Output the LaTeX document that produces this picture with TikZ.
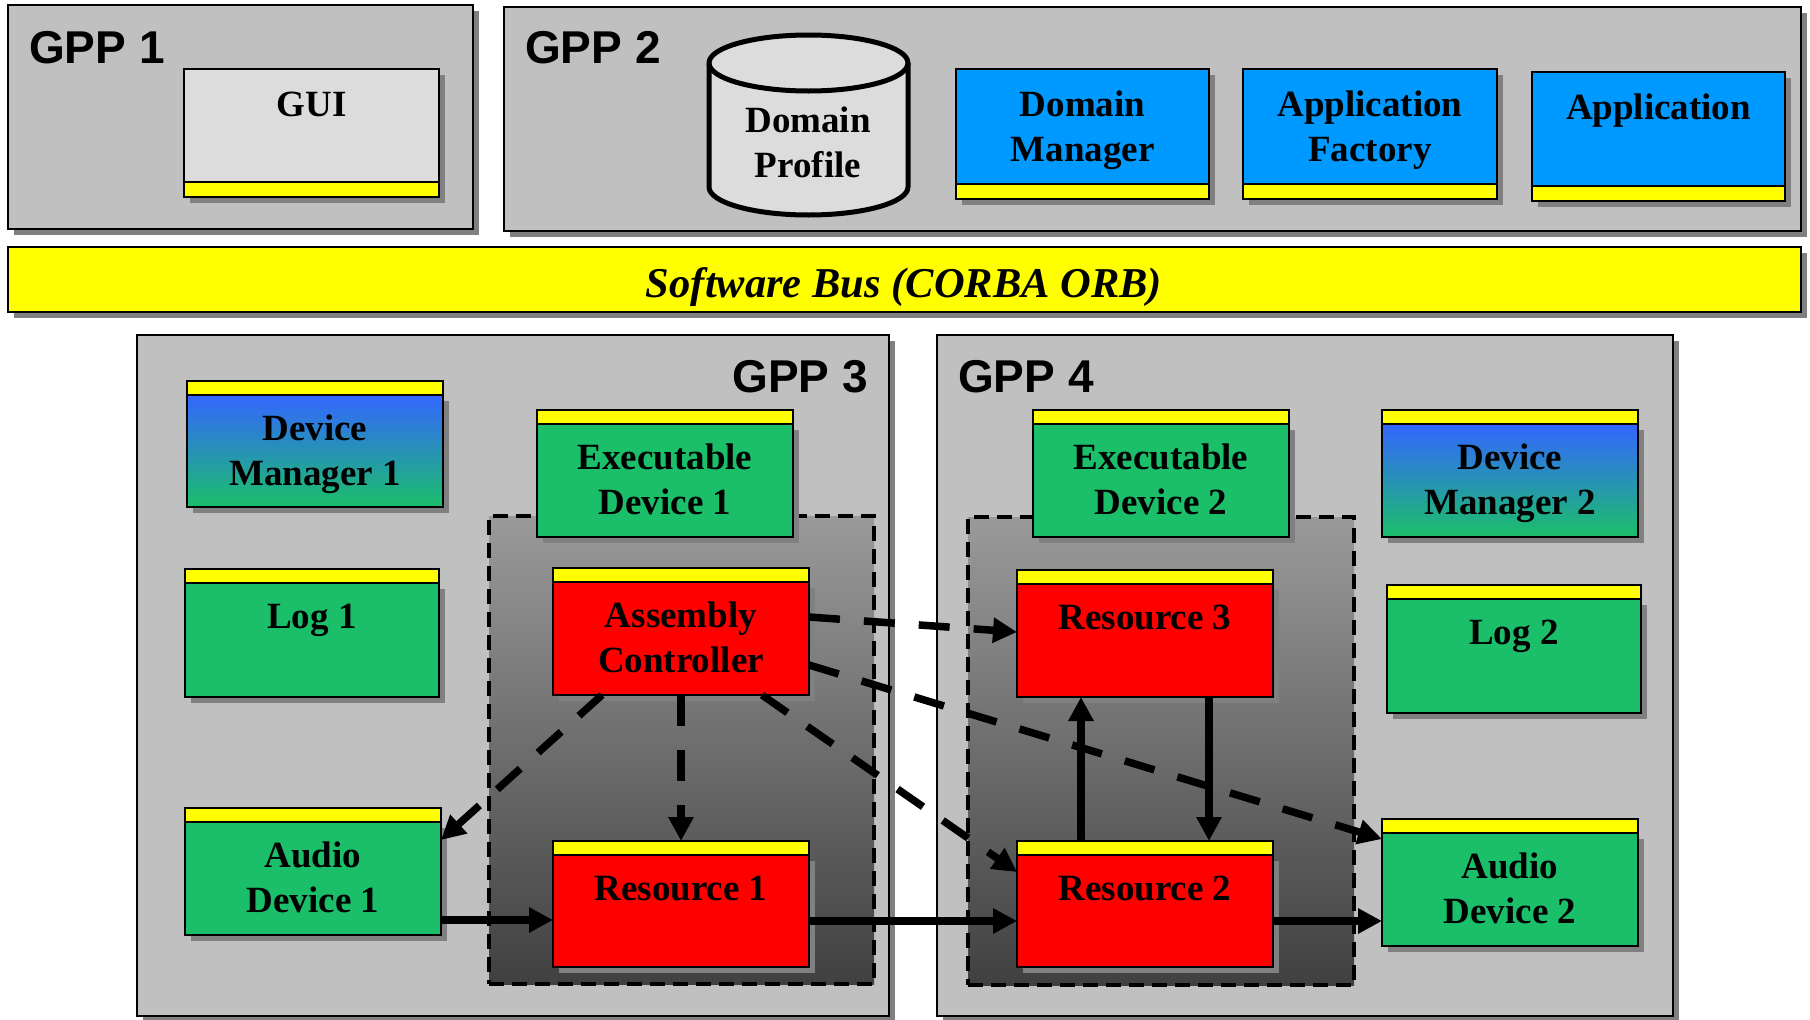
\documentclass[tikz,border=0pt]{standalone}
\usepackage{fontspec}
\setmainfont{Liberation Serif}
\newfontfamily\arialf{Liberation Sans}
\usetikzlibrary{arrows.meta,calc}
\definecolor{gppgray}{HTML}{C0C0C0}
\definecolor{shadowgray}{HTML}{808080}
\definecolor{guigray}{HTML}{DCDCDC}
\definecolor{busyellow}{HTML}{FFFF00}
\definecolor{compgreen}{HTML}{1BBF6A}
\definecolor{compblue}{HTML}{0099FF}
\definecolor{dmblue}{HTML}{3366FF}
\definecolor{compred}{HTML}{FF0000}
\definecolor{regtop}{HTML}{9A9A9A}
\definecolor{regbot}{HTML}{404040}
\tikzset{
  outline/.style={draw=black, line width=2pt},
  txt/.style={font=\fontsize{37}{45}\selectfont\bfseries, inner sep=0pt, text=black},
  gpptxt/.style={font=\arialf\bfseries\fontsize{46}{50}\selectfont, inner sep=0pt},
  flow/.style={line width=8pt, -{Triangle[length=24pt,width=24pt]}},
  dflow/.style={flow, line width=7.5pt, dash pattern=on 31pt off 24pt},
  region/.style={top color=regtop, bottom color=regbot, draw=black, line width=3.5pt, dash pattern=on 15pt off 8pt, inner sep=0pt, outer sep=0pt},
  gppbox/.style={fill=gppgray, draw=black, line width=2pt, inner sep=0pt, outer sep=0pt},
}
\newcommand{\lines}[1]{\begin{tabular}[t]{@{}c@{}}#1\end{tabular}}
% component with yellow bar on top
\newcommand{\compTop}[7]{%
  \fill[shadowgray] (#2+6,#3+20) rectangle (#4+6,#5+6);
  \node[minimum width={(#4-#2)*1pt}, minimum height={(#5-#3)*1pt}, inner sep=0pt, outer sep=0pt] (#1) at ({(#2+#4)/2},{(#3+#5)/2}) {};
  \path[#6] (#2,#3+14) rectangle (#4,#5);
  \fill[busyellow] (#2,#3) rectangle (#4,#3+14);
  \draw[line width=2pt] (#2,#3+14) -- (#4,#3+14);
  \draw[outline] (#2,#3) rectangle (#4,#5);
  \node[txt, anchor=base] (#1-t) at ({(#2+#4)/2},#3+59) {\lines{#7}};
}
% component with yellow bar at the bottom
\newcommand{\compBot}[7]{%
  \fill[shadowgray] (#2+6,#3+6) rectangle (#4+6,#5+6);
  \node[minimum width={(#4-#2)*1pt}, minimum height={(#5-#3)*1pt}, inner sep=0pt, outer sep=0pt] (#1) at ({(#2+#4)/2},{(#3+#5)/2}) {};
  \path[#6] (#2,#3) rectangle (#4,#5-15);
  \fill[busyellow] (#2,#5-15) rectangle (#4,#5);
  \draw[line width=2pt] (#2,#5-15) -- (#4,#5-15);
  \draw[outline] (#2,#3) rectangle (#4,#5);
  \node[txt, anchor=base] (#1-t) at ({(#2+#4)/2},#3+47) {\lines{#7}};
}
\newcommand{\gppcont}[5]{%
  \fill[shadowgray] (#2+6,#3+6) rectangle (#4+6,#5+6);
  \node[gppbox, minimum width={(#4-#2)*1pt}, minimum height={(#5-#3)*1pt}] (#1) at ({(#2+#4)/2},{(#3+#5)/2}) {};
}
\begin{document}
\begin{tikzpicture}[x=1pt,y=-1pt]
\useasboundingbox (0,0) rectangle (1810,1020);
\fill[white] (0,0) rectangle (1810,1020);

% containers
\gppcont{gpp1}{8}{5}{473}{229}
\gppcont{gpp2}{504}{7}{1801}{231}
\gppcont{gpp3}{137}{335}{889}{1016}
\gppcont{gpp4}{937}{335}{1673}{1016}
\node[gpptxt, anchor=base west] (gpp1-l) at (29,63) {GPP 1};
\node[gpptxt, anchor=base west] (gpp2-l) at (525,63) {GPP 2};
\node[gpptxt, anchor=base east] (gpp3-l) at (868,392) {GPP 3};
\node[gpptxt, anchor=base west] (gpp4-l) at (958,392) {GPP 4};

% software bus
\fill[shadowgray] (14,253) rectangle (1807,318);
\node[fill=busyellow, draw=black, line width=2pt, inner sep=0pt, outer sep=0pt, minimum width=1793pt, minimum height=65pt] (bus) at (904.5,279.5) {};
\node[font=\fontsize{42.5}{48}\selectfont\bfseries\itshape, inner sep=0pt, anchor=base] (bus-t) at (904,297) {Software Bus (CORBA ORB)};

% top row
\compBot{gui}{184}{69}{439}{197}{fill=guigray}{GUI}
\compBot{dmgr}{956}{69}{1209}{199}{fill=compblue}{Domain\\Manager}
\compBot{appf}{1243}{69}{1497}{199}{fill=compblue}{Application\\Factory}
\compBot{app}{1532}{72}{1785}{201}{fill=compblue}{Application}

% domain profile cylinder
\filldraw[fill=guigray, draw=black, line width=5pt] (709,63) -- (709,187)
  arc[start angle=180, end angle=0, x radius=99.5, y radius=28] -- (908,63)
  arc[start angle=0, end angle=-180, x radius=99.5, y radius=28] -- cycle;
\draw[line width=5pt] (709,63) arc[start angle=180, end angle=0, x radius=99.5, y radius=28];
\node[txt, anchor=base] (dprof) at (808,132) {\lines{Domain\\Profile}};

% dashed regions
\node[region, minimum width=385pt, minimum height=468pt] (reg1) at (681.5,750) {};
\node[region, minimum width=386pt, minimum height=468pt] (reg2) at (1161,751) {};

% GPP 3 components
\compTop{dm1}{187}{381}{443}{507}{top color=dmblue, bottom color=compgreen}{Device\\Manager 1}
\compTop{ed1}{537}{410}{793}{537}{fill=compgreen}{Executable\\Device 1}
\compTop{log1}{185}{569}{439}{697}{fill=compgreen}{Log 1}
\compTop{ad1}{185}{808}{441}{935}{fill=compgreen}{Audio\\Device 1}
\compTop{ac}{553}{568}{809}{695}{fill=compred}{Assembly\\Controller}
\compTop{r1}{553}{841}{809}{967}{fill=compred}{Resource 1}

% GPP 4 components
\compTop{ed2}{1033}{410}{1289}{537}{fill=compgreen}{Executable\\Device 2}
\compTop{r3}{1017}{570}{1273}{697}{fill=compred}{Resource 3}
\compTop{r2}{1017}{841}{1273}{967}{fill=compred}{Resource 2}
\compTop{dm2}{1382}{410}{1638}{537}{top color=dmblue, bottom color=compgreen}{Device\\Manager 2}
\compTop{log2}{1387}{585}{1641}{713}{fill=compgreen}{Log 2}
\compTop{ad2}{1382}{819}{1638}{946}{fill=compgreen}{Audio\\Device 2}

% connectors
\draw[dflow] ([xshift=49pt]ac.south west) -- ([yshift=-32pt]ad1.north east);
\draw[dflow] (ac.south) -- (r1.north);
\draw[dflow] ([xshift=209pt]ac.south west) -- ([yshift=-31pt]r2.north west);
\draw[dflow] ([yshift=-49pt]ac.north east) -- ([yshift=-62pt]r3.north west);
\draw[dflow] ([yshift=-97pt]ac.north east) -- ([yshift=-20pt]ad2.north west);
\draw[flow] ([yshift=-112pt]ad1.north east) -- ([yshift=-79pt]r1.north west);
\draw[flow] ([yshift=-80pt]r1.north east) -- ([yshift=-80pt]r2.north west);
\draw[flow] ([yshift=-80pt]r2.north east) -- ([yshift=-102pt]ad2.north west);
\draw[flow] ([xshift=64pt]r2.north west) -- ([xshift=64pt]r3.south west);
\draw[flow] ([xshift=192pt]r3.south west) -- ([xshift=192pt]r2.north west);
\end{tikzpicture}
\end{document}
